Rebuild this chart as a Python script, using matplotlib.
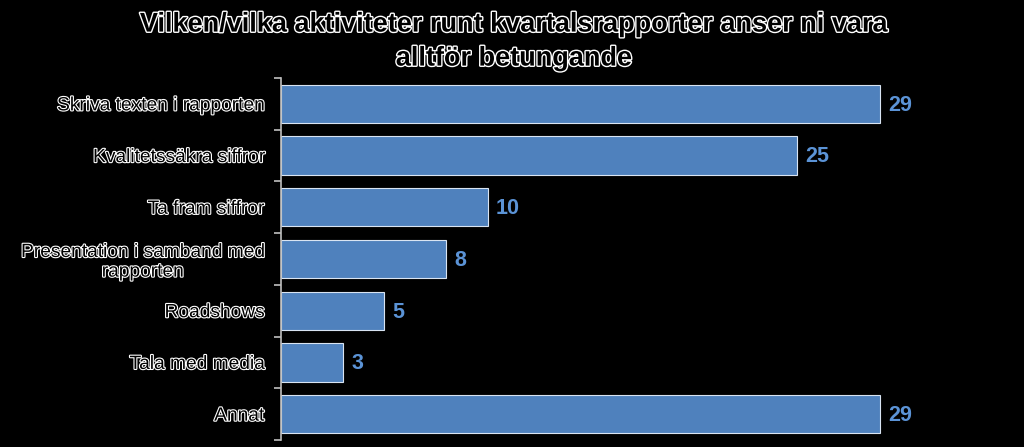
import matplotlib
matplotlib.use("Agg")
from matplotlib import pyplot as plt
import matplotlib.patheffects as pe
import numpy as np

categories = [
    "Skriva texten i rapporten",
    "Kvalitetssäkra siffror",
    "Ta fram siffror",
    "Presentation i samband med\nrapporten",
    "Roadshows",
    "Tala med media",
    "Annat",
]
values = [29, 25, 10, 8, 5, 3, 29]
title = "Vilken/vilka aktiviteter runt kvartalsrapporter anser ni vara\nalltför betungande"

outline = [pe.withStroke(linewidth=1.6, foreground="white")]

fig = plt.figure(figsize=(10.24, 4.47), dpi=100, facecolor="black")
ax = fig.add_axes([0.2744, 0.0157, 0.706, 0.8098], facecolor="black")

y = np.arange(len(categories))
bars = ax.barh(y, values, height=0.74, color="#4F81BD", edgecolor="#D9E4F2", linewidth=0.8)
ax.set_ylim(len(categories) - 0.5, -0.5)
ax.set_xlim(0, 35)

for yi, v in zip(y, values):
    ax.annotate(str(v), (v, yi), xytext=(6, -1), textcoords="offset points",
                va="center", ha="left", fontsize=15.5, fontweight="bold",
                color="#5B93D6", family="Liberation Sans")

ax.set_yticks(y)
ax.set_yticklabels(categories, fontsize=13.8, color="black", family="Liberation Sans")
for lab in ax.get_yticklabels():
    lab.set_path_effects(outline)
    lab.set_multialignment("center")
ax.tick_params(axis="y", which="major", length=0, pad=12)
ax.set_yticks(np.arange(-0.5, len(categories)), minor=True)
ax.tick_params(axis="y", which="minor", length=5, color="#BFBFBF", width=1.2)
ax.set_xticks([])

for s in ["top", "right", "bottom"]:
    ax.spines[s].set_visible(False)
ax.spines["left"].set_color("#BFBFBF")
ax.spines["left"].set_linewidth(1.2)

fig.text(0.502, 0.907, title, ha="center", va="center", fontsize=19.5,
         fontweight="bold", color="black", family="Liberation Sans",
         linespacing=1.4, path_effects=[pe.withStroke(linewidth=2, foreground="white")])

fig.savefig("out.png", dpi=100, facecolor="black")
